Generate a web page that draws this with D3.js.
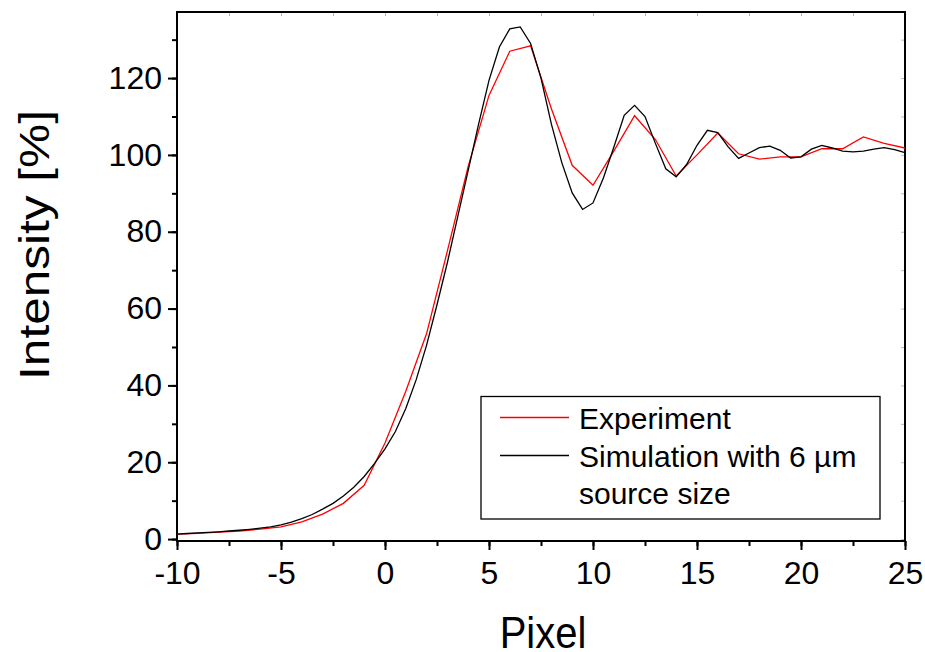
<!DOCTYPE html>
<html><head><meta charset="utf-8">
<script src="https://cdn.jsdelivr.net/npm/d3@7/dist/d3.min.js"></script>
<style>body{margin:0;background:#fff;} svg{display:block;} text{font-family:"Liberation Sans",Arial,sans-serif;fill:#000;}</style>
</head><body><svg id="c" width="925" height="652"></svg>
<script>
const expX = [-10,-9,-8,-7,-6,-5,-4,-3,-2,-1,0,1,2,3,4,5,6,7,8,9,10,11,12,13,14,15,16,17,18,19,20,21,22,23,24,25];
const expY = [1.3,1.5,1.8,2.1,2.6,3.2,4.5,6.5,9.3,14,25,38.5,53.5,75,97,115.5,127,128.4,112,97.3,92.1,101,110.2,104,94.5,100,105.7,100.3,98.9,99.5,99.5,101.6,101.6,104.7,103,101.8];
const simX = [-10,-9.5,-9,-8.5,-8,-7.5,-7,-6.5,-6,-5.5,-5,-4.5,-4,-3.5,-3,-2.5,-2,-1.5,-1,-0.5,0,0.5,1,1.5,2,2.5,3,3.5,4,4.5,5,5.5,6,6.5,7,7.5,8,8.5,9,9.5,10,10.5,11,11.5,12,12.5,13,13.5,14,14.5,15,15.5,16,16.5,17,17.5,18,18.5,19,19.5,20,20.5,21,21.5,22,22.5,23,23.5,24,24.5,25];
const simY = [1.3,1.45,1.6,1.75,1.9,2.1,2.3,2.55,2.85,3.2,3.7,4.4,5.3,6.4,7.8,9.3,11.2,13.5,16.3,19.7,23.5,28,34,41.5,50.5,61,72,84,96,108,119.4,128.1,132.8,133.3,129,120,108,98,90.1,85.8,87.5,94,102,110.3,112.9,110,103,96.4,94.3,97.5,102.5,106.4,105.8,102.1,99.1,100.5,101.9,102.3,101.2,99.2,99.5,101.5,102.5,101.8,101,100.8,101,101.5,101.9,101.4,100.6];
const xTicks = [-10,-5,0,5,10,15,20,25];
const yTicks = [0,20,40,60,80,100,120];
const seriesNames = ["Experiment","Simulation with 6 µm","source size"];

const svg = d3.select("#c");
const L=177, R=905, T=12, B=541;
const x = d3.scaleLinear().domain([-10,25]).range([L,R]);
const y = d3.scaleLinear().domain([-0.5,137.2]).range([B,T]);

const xMinor = d3.range(-10,25.01,2.5);
const yMinor = d3.range(0,137,10);
const gx = svg.append("g").attr("transform",`translate(0,${B})`)
  .call(d3.axisBottom(x).tickValues(xMinor).tickSize(5).tickFormat(""));
gx.selectAll("path").remove();
gx.selectAll("line").attr("stroke-width",2);
const gx2 = svg.append("g").attr("transform",`translate(0,${B})`)
  .call(d3.axisBottom(x).tickValues(xTicks).tickSize(9).tickPadding(11).tickFormat(d3.format("d")));
gx2.selectAll("path").remove();
gx2.selectAll("line").attr("stroke-width",2);
gx2.selectAll("text").attr("font-size",32).attr("font-family","Liberation Sans, Arial, sans-serif")
  .text(d=>d<0?"-"+Math.abs(d):d);

const gy = svg.append("g").attr("transform",`translate(${L},0)`)
  .call(d3.axisLeft(y).tickValues(yMinor).tickSize(5).tickFormat(""));
gy.selectAll("path").remove();
gy.selectAll("line").attr("stroke-width",2);
const gy2 = svg.append("g").attr("transform",`translate(${L},0)`)
  .call(d3.axisLeft(y).tickValues(yTicks).tickSize(9).tickPadding(6).tickFormat(d3.format("d")));
gy2.selectAll("path").remove();
gy2.selectAll("line").attr("stroke-width",2);
gy2.selectAll("text").attr("font-size",32).attr("font-family","Liberation Sans, Arial, sans-serif");

const gt = svg.append("g").attr("transform",`translate(0,${T})`)
  .call(d3.axisTop(x).tickValues(xMinor).tickSize(-4).tickFormat(""));
gt.selectAll("path").remove(); gt.selectAll("line").attr("stroke","#bbb");
const gr = svg.append("g").attr("transform",`translate(${R},0)`)
  .call(d3.axisRight(y).tickValues(yMinor).tickSize(-4).tickFormat(""));
gr.selectAll("path").remove(); gr.selectAll("line").attr("stroke","#bbb");

svg.append("rect").attr("x",L).attr("y",T).attr("width",R-L).attr("height",B-T)
  .attr("fill","none").attr("stroke","#000").attr("stroke-width",2);

svg.append("clipPath").attr("id","cp").append("rect").attr("x",L).attr("y",T).attr("width",R-L).attr("height",B-T);
const line = d3.line().x(d=>x(d[0])).y(d=>y(d[1]));
svg.append("path").datum(expX.map((v,i)=>[v,expY[i]])).attr("d",line)
  .attr("fill","none").attr("stroke","#ff0000").attr("stroke-width",1.3).attr("clip-path","url(#cp)");
svg.append("path").datum(simX.map((v,i)=>[v,simY[i]])).attr("d",line)
  .attr("fill","none").attr("stroke","#000").attr("stroke-width",1.3).attr("clip-path","url(#cp)");

svg.append("rect").attr("x",481).attr("y",396.5).attr("width",399).attr("height",122.5)
  .attr("fill","#fff").attr("stroke","#000").attr("stroke-width",1.3);
svg.append("line").attr("x1",500).attr("x2",569).attr("y1",417.5).attr("y2",417.5).attr("stroke","#ff0000").attr("stroke-width",1.3);
svg.append("line").attr("x1",500).attr("x2",569).attr("y1",455.5).attr("y2",455.5).attr("stroke","#000").attr("stroke-width",1.3);
const ly=[429,467,504];
seriesNames.forEach((s,i)=>svg.append("text").attr("x",579).attr("y",ly[i]).attr("font-size",30).text(s));

svg.append("text").attr("transform","translate(543,648) scale(1,1.1)").attr("text-anchor","middle").attr("font-size",40).text("Pixel");
svg.append("text").attr("transform","translate(49,245) rotate(-90) scale(1.18,1)").attr("text-anchor","middle").attr("font-size",42).text("Intensity [%]");
</script></body></html>
